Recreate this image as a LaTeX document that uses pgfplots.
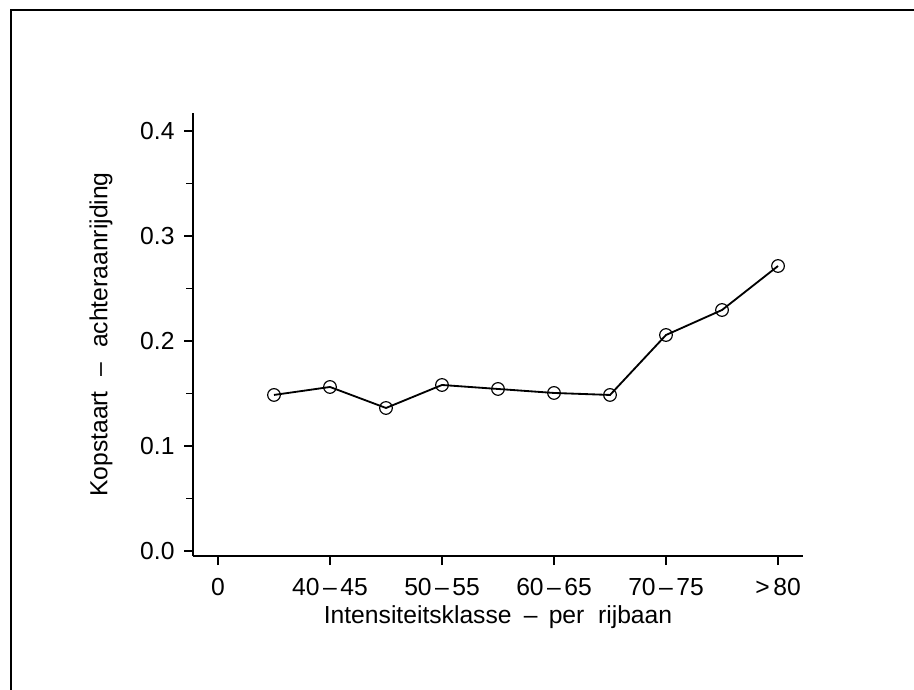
\documentclass[border=0pt]{standalone}
\usepackage{pgfplots}
\pgfplotsset{compat=1.18}
\usepackage{fontspec}
\setmainfont{Liberation Sans}
\newcommand{\rng}[2]{#1\hspace{0.14em}--\hspace{0.14em}#2}
\begin{document}
\begin{tikzpicture}
\useasboundingbox (0,0) rectangle (548.4pt,413.4pt);
\draw[line width=1.5pt] (6.6pt,-2pt) -- (6.6pt,407.4pt) -- (552pt,407.4pt);
\begin{axis}[
  at={(115.8pt,79.8pt)}, anchor=south west,
  scale only axis, width=366pt, height=265.8pt,
  xmin=-0.446, xmax=10.446, ymin=-0.00476, ymax=0.4171,
  axis x line*=bottom, axis y line*=left,
  axis line style={-, line width=0.9pt},
  tick align=outside,
  major tick length=5.4pt, minor tick length=4.2pt,
  tick style={black, line width=0.8pt},
  xtick={0,2,4,6,8,10},
  xticklabels={0, \rng{40}{45}, \rng{50}{55}, \rng{60}{65}, \rng{70}{75}, {>\hspace{0.15em}80}},
  ytick={0,0.1,0.2,0.3,0.4},
  minor ytick={0.05,0.15,0.25,0.35},
  yticklabel style={/pgf/number format/fixed, /pgf/number format/fixed zerofill, /pgf/number format/precision=1, /pgf/number format/assume math mode=true},
  every tick label/.append style={font=\fontsize{14.8}{17}\selectfont},
  xticklabel style={anchor=north, inner sep=0pt, yshift=-7.5pt},
  yticklabel style={anchor=east, inner sep=0pt, xshift=-5.5pt},
  xlabel={Intensiteitsklasse\hspace{0.5em}--\hspace{0.45em}per\ \ rijbaan},
  ylabel={Kopstaart\hspace{0.6em}--\hspace{0.6em}achteraanrijding},
  label style={font=\fontsize{14.8}{17}\selectfont},
  xlabel style={at={(axis description cs:0.5,-0.137)}, anchor=center},
  ylabel style={at={(axis description cs:-0.151,0.5)}, anchor=center},
]
\addplot[black, line width=1.1pt, mark=o, mark size=3.8pt, mark options={line width=0.7pt, fill=none}]
coordinates {
(1,0.1486) (2,0.1562) (3,0.1362) (4,0.1581) (5,0.1543)
(6,0.1505) (7,0.1486) (8,0.2057) (9,0.2295) (10,0.2714)
};
\end{axis}
\end{tikzpicture}
\end{document}
